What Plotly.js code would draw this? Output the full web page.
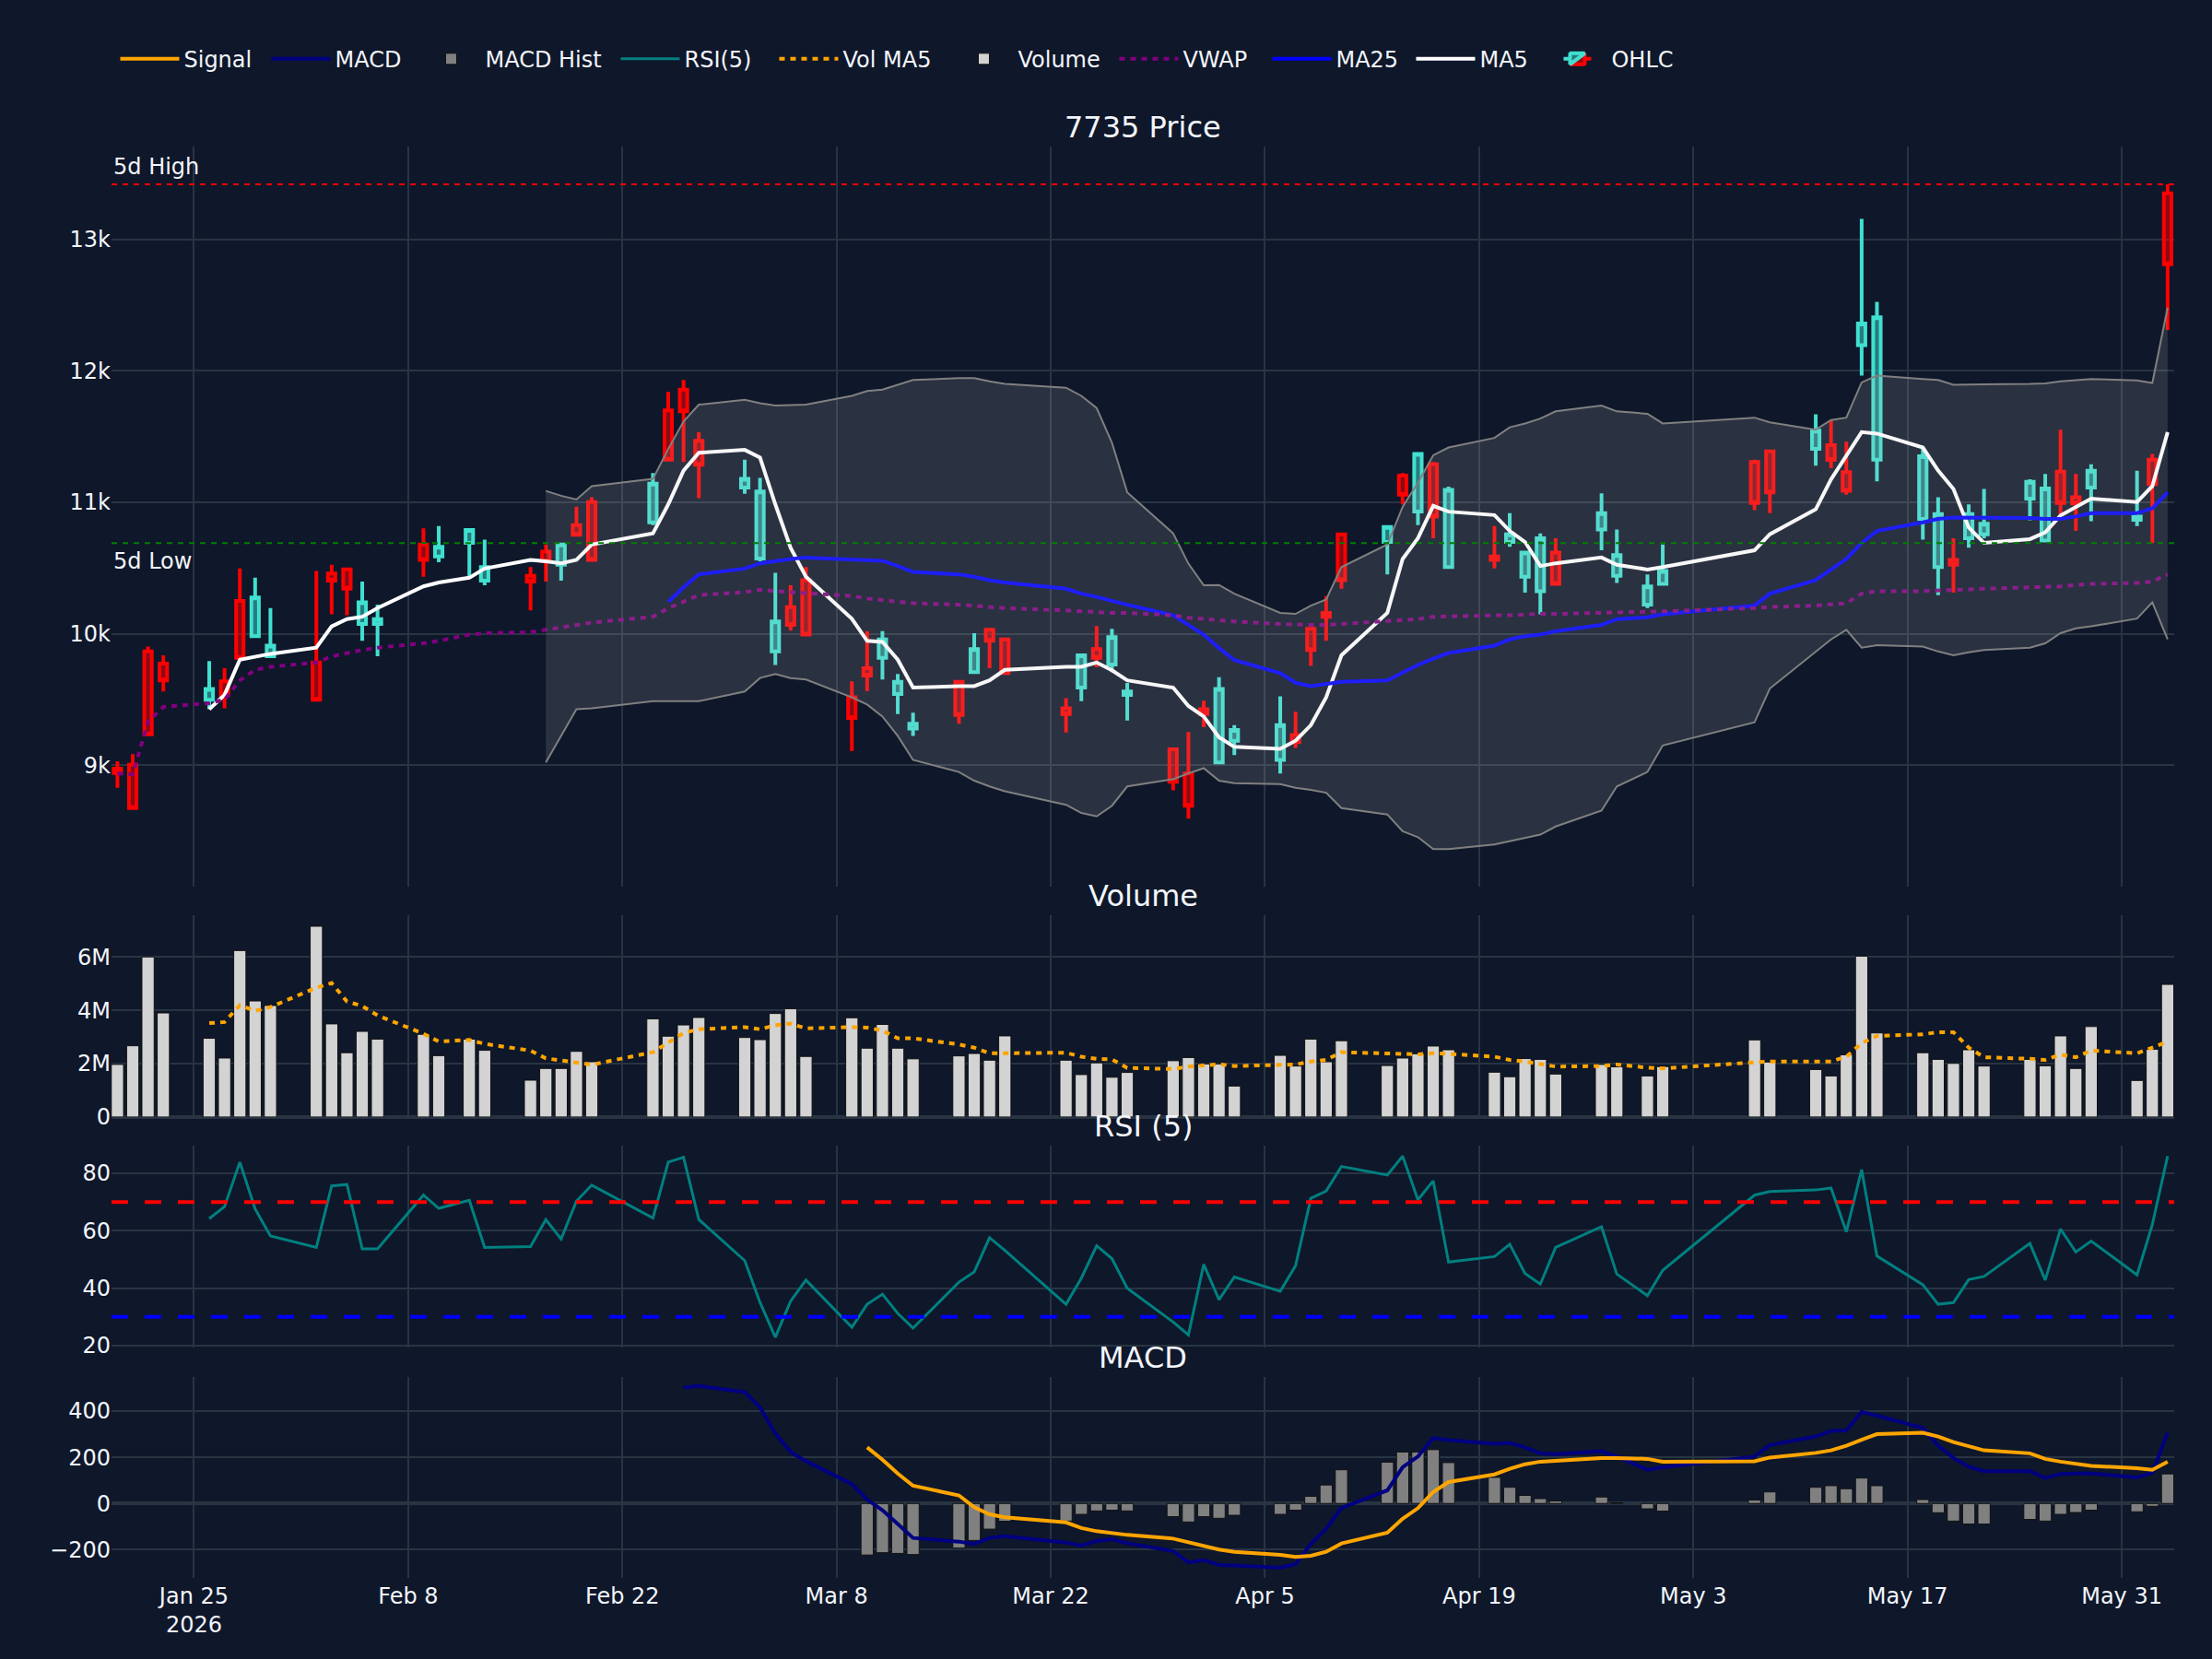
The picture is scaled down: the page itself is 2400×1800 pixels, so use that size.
<!DOCTYPE html>
<html>
<head>
<meta charset="utf-8">
<script src="https://cdn.plot.ly/plotly-3.0.1.min.js"></script>
<style>
  html, body { margin: 0; padding: 0; background: #0f172a; }
  #chart { width: 2400px; height: 1800px; }
</style>
</head>
<body>
<div id="chart"></div>
<script>
// Trading days (Tokyo calendar)
const dates = ['2026-01-20','2026-01-21','2026-01-22','2026-01-23','2026-01-26','2026-01-27','2026-01-28','2026-01-29','2026-01-30',
  '2026-02-02','2026-02-03','2026-02-04','2026-02-05','2026-02-06','2026-02-09','2026-02-10','2026-02-12','2026-02-13','2026-02-16',
  '2026-02-17','2026-02-18','2026-02-19','2026-02-20','2026-02-24','2026-02-25','2026-02-26','2026-02-27',
  '2026-03-02','2026-03-03','2026-03-04','2026-03-05','2026-03-06','2026-03-09','2026-03-10','2026-03-11','2026-03-12','2026-03-13',
  '2026-03-16','2026-03-17','2026-03-18','2026-03-19','2026-03-23','2026-03-24','2026-03-25','2026-03-26','2026-03-27','2026-03-30','2026-03-31',
  '2026-04-01','2026-04-02','2026-04-03','2026-04-06','2026-04-07','2026-04-08','2026-04-09','2026-04-10','2026-04-13','2026-04-14',
  '2026-04-15','2026-04-16','2026-04-17','2026-04-20','2026-04-21','2026-04-22','2026-04-23','2026-04-24','2026-04-27','2026-04-28','2026-04-30',
  '2026-05-01','2026-05-07','2026-05-08','2026-05-11','2026-05-12','2026-05-13','2026-05-14','2026-05-15','2026-05-18','2026-05-19',
  '2026-05-20','2026-05-21','2026-05-22','2026-05-25','2026-05-26','2026-05-27','2026-05-28','2026-05-29','2026-06-01','2026-06-02','2026-06-03'];

const openPx = [8973,9003,9865,9773,9498,9637,10250,9982,9828,9781,
  10459,10489,10074,10074,10679,10588,10691,10404,10441,10625,
  10525,10826,11002,10848,11700,11857,11468,11112,10573,9865,
  10203,10408,9516,9737,9817,9542,9278,9634,9707,10030,
  9957,9432,9590,9883,9766,9535,9120,8937,9425,9021,
  9186,9039,9230,10037,10159,10757,10698,11204,10929,11289,
  10507,10588,10698,10434,10324,10617,10793,10441,10221,10379,
  11307,11388,11406,11435,11230,12195,11325,10874,10507,10562,
  10727,10757,11028,10709,11234,11039,11112,10867,11325,13351];

const highPx = [9030,9083,9902,9835,9792,9737,10496,10426,10195,10478,
  10525,10495,10397,10221,10801,10819,10790,10716,10507,10679,
  10690,10966,11039,11222,11839,11931,11534,11325,11186,10463,
  10368,10507,9637,10019,10019,9693,9399,9640,10004,10037,
  9968,9509,9847,10059,10037,9626,9125,9252,9491,9670,
  9304,9524,9406,10040,10287,10771,10819,11222,11369,11307,
  11120,10819,10918,10624,10764,10727,11068,10793,10452,10679,
  11325,11390,11670,11626,11461,13156,12525,11406,11039,10727,
  10984,11101,11175,11215,11553,11215,11289,11241,11369,13420];

const lowPx = [8827,8665,9225,9560,9425,9432,9810,9982,9817,9498,
  10148,10140,9946,9828,10434,10544,10423,10368,10177,10397,
  10404,10746,10551,10826,11314,11307,11032,11065,10551,9762,
  10023,9993,9106,9564,9652,9388,9223,9315,9700,9737,
  9689,9249,9487,9744,9707,9340,8808,8592,9289,9014,
  9076,8937,9131,9755,9946,10342,10452,10984,10826,10727,
  10507,10496,10661,10313,10148,10379,10635,10386,10195,10379,
  10940,10918,11278,11259,11057,11964,11160,10716,10294,10313,
  10654,10727,10863,10709,10892,10782,10856,10819,10690,12312];

const closePx = [8940,8673,9234,9645,9579,9535,9817,10276,9909,9498,
  10404,10342,10239,10111,10562,10661,10790,10507,10397,10551,
  10679,10753,10562,11142,11325,11692,11285,11178,11083,10093,
  10067,9993,9359,9682,9957,9634,9315,9381,9883,9946,
  9700,9388,9836,9817,9975,9560,8874,8691,9388,9579,
  9267,9304,9175,9876,10129,10408,10812,11057,11369,10892,
  11094,10562,10757,10617,10727,10379,10918,10599,10360,10478,
  10995,11076,11545,11322,11087,12360,12408,11351,10911,10525,
  10911,10837,11156,11105,10995,10991,11241,10892,11138,12811];

const ma5 = [null,null,null,null,
  9425,9535,9803,9828,9847,
  9894,10056,10111,10129,10195,10360,10390,10426,10496,10562,10551,10536,10562,10679,10764,10984,11241,11377,
  11399,11340,10984,10654,10434,10114,9946,9938,9803,9590,9601,9601,9645,9725,9748,9748,9781,9722,9645,9590,9450,
  9370,9212,9139,9124,9186,9304,9516,9836,10159,10569,10727,10973,10929,10903,10782,10698,10515,10536,10580,10525,10489,
  10507,10635,10757,10947,11175,11351,11534,11523,11417,11241,11101,10808,10691,10720,10771,10900,10966,11028,
  11002,11123,11534];

const ma25 = [null,null,null,null,null,null,null,null,null,null,null,null,null,null,null,null,null,null,null,null,null,null,null,null,
  10243,10353,10452,
  10496,10536,10555,10569,10580,10562,10558,10555,10515,10470,10452,10434,10408,10390,10342,10305,10280,10247,10221,10140,10067,
  9993,9891,9799,9700,9627,9601,9616,9634,9645,9707,9762,9810,9854,9909,9957,9982,9993,10019,10067,10111,10125,
  10148,10214,10305,10408,10489,10569,10690,10782,10848,10874,10885,10885,10888,10881,10874,10874,10892,10918,
  10918,10954,11076];

const vwap = [8937,8930,9330,9443,9472,9498,9645,9725,9748,
  9781,9828,9854,9876,9894,9927,9946,9993,10004,10012,10030,10048,10067,10085,10129,10195,10243,10294,
  10316,10335,10324,10316,10313,10287,10268,10257,10243,10232,10221,10214,10206,10195,10177,10170,10166,10159,10159,10140,10122,
  10111,10104,10093,10074,10067,10067,10067,10074,10093,10104,10111,10129,10133,10140,10140,10148,10151,10151,10159,10166,10166,
  10170,10195,10203,10214,10225,10232,10305,10324,10324,10331,10335,10338,10342,10349,10353,10360,10371,10379,
  10386,10397,10452];

const bbUpper = [null,null,null,null,null,null,null,null,null,null,null,null,null,null,null,null,null,null,null,
  11087,11050,11021,11123,11178,11406,11615,11743,
  11780,11754,11736,11740,11743,11810,11846,11857,11894,11931,11945,11945,11920,11901,11872,11810,11718,11454,11076,10764,10533,
  10368,10371,10305,10159,10151,10214,10261,10507,10679,10966,11149,11358,11417,11490,11571,11600,11637,11692,11736,11692,11674,
  11600,11644,11608,11553,11626,11644,11912,11964,11938,11931,11894,11894,11898,11901,11905,11920,11931,11938,
  11927,11908,12481];

const bbLower = [null,null,null,null,null,null,null,null,null,null,null,null,null,null,null,null,null,null,null,
  9021,9223,9425,9432,9487,9487,9487,9487,
  9560,9663,9693,9663,9652,9516,9461,9370,9223,9040,8948,8882,8838,8801,8698,8636,8610,8691,8838,8893,8937,
  8977,8882,8863,8856,8827,8812,8790,8673,8625,8497,8452,8361,8361,8397,8423,8445,8471,8533,8654,8838,8948,
  9150,9326,9583,9865,9957,10030,9894,9913,9902,9865,9836,9858,9876,9894,9927,10004,10041,10056,
  10115,10239,9957];

const volume = [1970000,2670000,6000000,3900000,2950000,2210000,6240000,4350000,4180000,7150000,
  3490000,2410000,3210000,2920000,3100000,2300000,2920000,2500000,1380000,1820000,
  1820000,2460000,2070000,3680000,3030000,3450000,3730000,2980000,2900000,3880000,
  4060000,2270000,3720000,2580000,3470000,2580000,2180000,2290000,2380000,2130000,
  3040000,2130000,1590000,2030000,1490000,1670000,2110000,2230000,1990000,1990000,
  1160000,2310000,1910000,2920000,2070000,2860000,1930000,2210000,2370000,2660000,
  2520000,1680000,1510000,2190000,2160000,1610000,1970000,1880000,1540000,1890000,
  2890000,2060000,1780000,1540000,2330000,6030000,3150000,2410000,2160000,2010000,
  2520000,1910000,2160000,1920000,3040000,1820000,3390000,1370000,2540000,4970000];

const volMa5 = [null,null,null,null,
  3.52e6,3.56e6,4.19e6,3.98e6,4.12e6,
  4.85e6,5.02e6,4.33e6,4.16e6,3.81e6,3.12e6,2.83e6,2.89e6,2.74e6,2.49e6,2.20e6,2.12e6,2.05e6,1.96e6,2.43e6,2.77e6,3.15e6,3.29e6,
  3.37e6,3.29e6,3.44e6,3.50e6,3.32e6,3.37e6,3.35e6,3.24e6,2.95e6,2.95e6,2.72e6,2.60e6,2.39e6,2.39e6,2.41e6,2.26e6,2.18e6,2.16e6,1.84e6,1.80e6,1.89e6,
  1.93e6,1.98e6,1.91e6,1.93e6,1.97e6,2.08e6,2.14e6,2.43e6,2.39e6,2.37e6,2.35e6,2.39e6,2.37e6,2.26e6,2.14e6,2.08e6,2.00e6,1.89e6,1.91e6,1.97e6,1.85e6,
  1.82e6,2.05e6,2.08e6,2.08e6,2.08e6,2.26e6,2.77e6,3.04e6,3.10e6,3.18e6,3.18e6,2.60e6,2.24e6,2.18e6,2.14e6,2.34e6,2.24e6,2.49e6,
  2.39e6,2.60e6,2.83e6];

const rsi5 = [null,null,null,null,
  64.2,68.4,83.9,67.6,58.2,
  54.2,75.6,76.1,53.7,53.7,72.4,67.8,70.6,54.2,54.5,63.9,57.1,70.3,75.9,64.4,83.9,85.6,63.9,
  49.6,35.0,22.9,35.5,42.8,26.4,34.4,37.9,31.2,26.1,42.1,45.7,57.6,53.2,34.4,43.5,54.8,50.3,40.0,28.2,23.7,
  48.3,36.0,43.9,38.9,47.8,71.3,73.8,82.4,79.4,86.0,70.8,77.4,49.1,51.0,55.3,45.1,41.4,54.2,61.4,44.9,37.4,
  46.2,72.4,73.7,74.2,74.9,59.6,81.3,51.2,41.2,34.4,35.0,43.0,44.1,55.6,42.8,60.6,52.6,56.4,
  44.6,62.2,86.0];

const macd = [null,null,null,null,null,null,null,null,null,null,null,null,null,null,null,null,null,null,null,null,null,null,null,null,null,
  502,509,
  482,416,303,223,183,84,17,-29,-89,-149,-165,-175,-149,-142,-169,-182,-162,-155,-172,-206,-255,
  -245,-266,-268,-278,-262,-175,-109,-19,57,157,203,283,274,258,262,243,217,214,226,203,146,
  157,203,253,290,314,316,396,380,327,250,197,159,140,140,110,128,130,130,
  113,133,306];

const signal = [null,null,null,null,null,null,null,null,null,null,null,null,null,null,null,null,null,null,null,null,
  null,null,null,null,null,null,null,null,null,null,null,null,null,
  243,190,130,77,35,-16,-47,-60,-82,-106,-120,-129,-136,-152,-169,
  -182,-199,-209,-222,-231,-226,-209,-173,-126,-66,-20,50,93,126,150,170,181,186,197,197,193,
  181,183,199,219,230,250,276,300,306,290,266,247,230,217,193,181,173,163,
  153,146,181];

const macdHist = [null,null,null,null,null,null,null,null,null,null,null,null,null,null,null,null,null,null,null,null,
  null,null,null,null,null,null,null,null,null,null,null,null,null,
  -223,-213,-216,-221,-193,-160,-111,-77,-76,-47,-32,-29,-32,-57,-80,
  -57,-64,-51,-47,-29,31,80,146,179,223,223,233,177,113,70,35,21,11,28,3,-23,
  -33,15,50,70,77,64,110,77,17,-40,-76,-89,-89,-69,-76,-47,-39,-29,
  -36,-12,128];

// Reference levels over the last five sessions
const fiveDayHigh = 13420;
const fiveDayLow = 10690;
const rsiUpper = 70;
const rsiLower = 30;

const subplotTitles = ['7735 Price', 'Volume', 'RSI (5)', 'MACD'];

// ---- traces ----
const traces = [
  { type: 'candlestick', name: 'OHLC', x: dates, open: openPx, high: highPx, low: lowPx, close: closePx,
    xaxis: 'x', yaxis: 'y', legendwidth: 80,
    increasing: { line: { color: '#40E0D0', width: 4 } },
    decreasing: { line: { color: '#FF0000', width: 4 } } },
  { type: 'scatter', mode: 'lines', name: 'MA5', x: dates, y: ma5, xaxis: 'x', yaxis: 'y', legendwidth: 64,
    line: { color: 'white', width: 4 } },
  { type: 'scatter', mode: 'lines', name: 'MA25', x: dates, y: ma25, xaxis: 'x', yaxis: 'y', legendwidth: 77,
    line: { color: 'blue', width: 4 } },
  { type: 'scatter', mode: 'lines', name: 'VWAP', x: dates, y: vwap, xaxis: 'x', yaxis: 'y', legendwidth: 87,
    line: { color: 'purple', width: 4, dash: '6px,6px' } },
  { type: 'scatter', mode: 'lines', name: 'BB Upper', x: dates, y: bbUpper, xaxis: 'x', yaxis: 'y',
    line: { color: 'gray', width: 2 }, showlegend: false },
  { type: 'scatter', mode: 'lines', name: 'BB Lower', x: dates, y: bbLower, xaxis: 'x', yaxis: 'y',
    line: { color: 'gray', width: 2 }, fill: 'tonexty', fillcolor: 'rgba(200,200,200,0.15)', showlegend: false },
  { type: 'bar', name: 'Volume', x: dates, y: volume, xaxis: 'x2', yaxis: 'y2', legendwidth: 100,
    marker: { color: 'lightgray', line: { color: 'rgb(17,17,17)', width: 1 } } },
  { type: 'scatter', mode: 'lines', name: 'Vol MA5', x: dates, y: volMa5, xaxis: 'x2', yaxis: 'y2', legendwidth: 111,
    line: { color: 'orange', width: 4, dash: '6px,6px' } },
  { type: 'scatter', mode: 'lines', name: 'RSI(5)', x: dates, y: rsi5, xaxis: 'x3', yaxis: 'y3', legendwidth: 93,
    line: { color: 'teal', width: 3 } },
  { type: 'bar', name: 'MACD Hist', x: dates, y: macdHist, xaxis: 'x4', yaxis: 'y4', legendwidth: 137,
    marker: { color: 'gray', line: { color: 'rgb(17,17,17)', width: 1 } } },
  { type: 'scatter', mode: 'lines', name: 'MACD', x: dates, y: macd, xaxis: 'x4', yaxis: 'y4', legendwidth: 84,
    line: { color: 'navy', width: 4 } },
  { type: 'scatter', mode: 'lines', name: 'Signal', x: dates, y: signal, xaxis: 'x4', yaxis: 'y4', legendwidth: 85,
    line: { color: 'orange', width: 4 } }
];

// ---- layout ----
const gridColor = '#283442';
const xRange = ['2026-01-19 14:43', '2026-06-03 10:19'];
function xAxis(anchor, showLabels) {
  return {
    type: 'date', anchor: anchor, domain: [0, 1], range: xRange,
    tick0: '2026-01-25', dtick: 14 * 86400000,
    showgrid: true, gridcolor: gridColor, gridwidth: 2, zeroline: false,
    showline: false, showticklabels: showLabels, tickfont: { size: 24 }, ticklabelstandoff: 3
  };
}
function yAxis(anchor, domain, range, dtick) {
  return {
    anchor: anchor, domain: domain, range: range, dtick: dtick,
    showgrid: true, gridcolor: gridColor, gridwidth: 2,
    zeroline: true, zerolinecolor: gridColor, zerolinewidth: 4,
    showline: false, tickfont: { size: 24 }
  };
}

const domains = {
  price: [0.4828, 1.0],
  volume: [0.3220, 0.4628],
  rsi: [0.1612, 0.3018],
  macd: [0.0, 0.1406]
};

const xa1 = xAxis('y', false); xa1.rangeslider = { visible: false };

const layout = {
  width: 2400, height: 1800,
  paper_bgcolor: '#0f172a', plot_bgcolor: '#0f172a',
  font: { family: 'DejaVu Sans, sans-serif', size: 24, color: '#f2f5fa' },
  margin: { l: 121, r: 41, t: 159, b: 88 },
  showlegend: true,
  legend: { orientation: 'h', x: 0.002, xanchor: 'left', y: 1.061, yanchor: 'middle',
            traceorder: 'reversed', font: { size: 24 }, bgcolor: 'rgba(0,0,0,0)', itemwidth: 64 },
  xaxis: xa1,
  xaxis2: xAxis('y2', false),
  xaxis3: xAxis('y3', false),
  xaxis4: xAxis('y4', true),
  yaxis: yAxis('x', domains.price, [8074, 13707], 1000),
  yaxis2: yAxis('x2', domains.volume, [0, 7555000], 2000000),
  yaxis3: yAxis('x3', domains.rsi, [19.45, 89.55], 20),
  yaxis4: yAxis('x4', domains.macd, [-322, 549], 200),
  shapes: [
    { type: 'line', xref: 'paper', x0: 0, x1: 1, yref: 'y', y0: fiveDayHigh, y1: fiveDayHigh,
      line: { color: 'red', width: 2, dash: '6px,6px' } },
    { type: 'line', xref: 'paper', x0: 0, x1: 1, yref: 'y', y0: fiveDayLow, y1: fiveDayLow,
      line: { color: 'green', width: 2, dash: '6px,6px' } },
    { type: 'line', xref: 'paper', x0: 0, x1: 1, yref: 'y3', y0: rsiUpper, y1: rsiUpper,
      line: { color: 'red', width: 4, dash: '18px,18px' } },
    { type: 'line', xref: 'paper', x0: 0, x1: 1, yref: 'y3', y0: rsiLower, y1: rsiLower,
      line: { color: 'blue', width: 4, dash: '18px,18px' } }
  ],
  annotations: [
    { text: subplotTitles[0], xref: 'paper', yref: 'paper', x: 0.5, y: domains.price[1],
      xanchor: 'center', yanchor: 'bottom', showarrow: false, font: { size: 32 } },
    { text: subplotTitles[1], xref: 'paper', yref: 'paper', x: 0.5, y: domains.volume[1],
      xanchor: 'center', yanchor: 'bottom', showarrow: false, font: { size: 32 } },
    { text: subplotTitles[2], xref: 'paper', yref: 'paper', x: 0.5, y: domains.rsi[1],
      xanchor: 'center', yanchor: 'bottom', showarrow: false, font: { size: 32 } },
    { text: subplotTitles[3], xref: 'paper', yref: 'paper', x: 0.5, y: domains.macd[1],
      xanchor: 'center', yanchor: 'bottom', showarrow: false, font: { size: 32 } },
    { text: '5d High', xref: 'paper', yref: 'y', x: 0, y: fiveDayHigh, yshift: 3,
      xanchor: 'left', yanchor: 'bottom', showarrow: false, font: { size: 24 } },
    { text: '5d Low', xref: 'paper', yref: 'y', x: 0, y: fiveDayLow, yshift: -4,
      xanchor: 'left', yanchor: 'top', showarrow: false, font: { size: 24 } }
  ]
};

Plotly.newPlot('chart', traces, layout, { staticPlot: true, displayModeBar: false });
</script>
</body>
</html>
